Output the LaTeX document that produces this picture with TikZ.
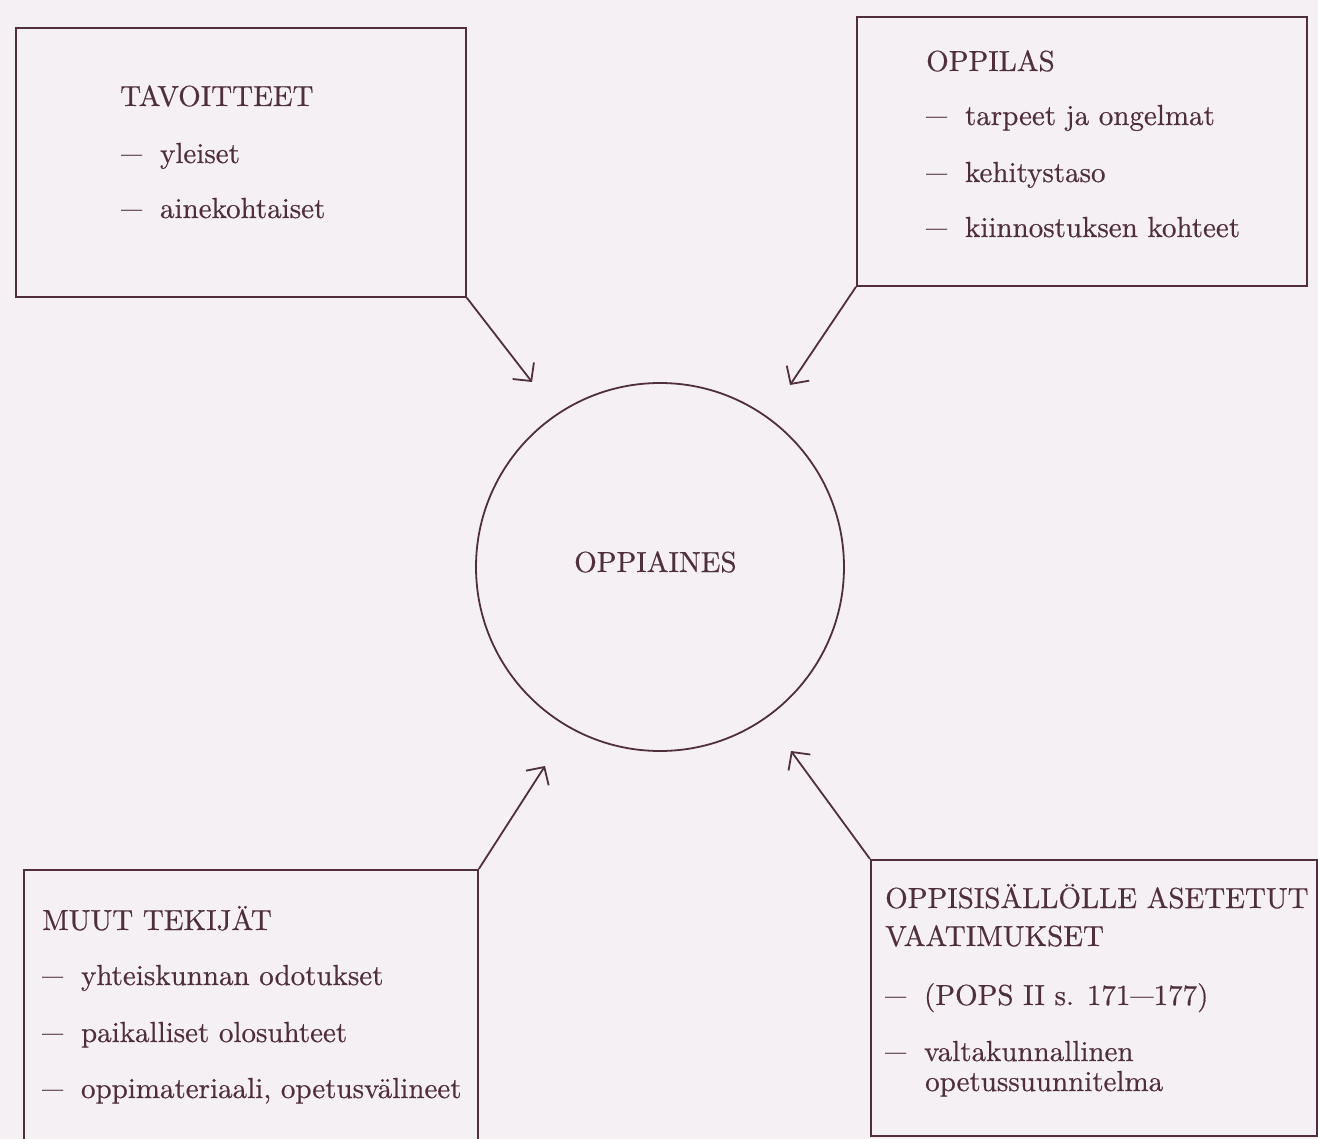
\documentclass[tikz,border=0pt]{standalone}
\usepackage{graphicx}
\usepackage{fontspec}
\setmainfont{lmroman10-regular.otf}[FakeBold=0.5]
\usetikzlibrary{arrows.meta}
\definecolor{ink}{RGB}{80,46,62}
\definecolor{paper}{RGB}{245,240,244}
\newcommand\dsh{\makebox[1.34em][l]{\scalebox{0.72}[1]{---}}}
\tikzset{
  boxst/.style={draw=ink, line width=1.8pt, rectangle, inner sep=0pt, anchor=north west},
  txt/.style={text=ink, anchor=base west, inner sep=0pt},
  arr/.style={draw=ink, line width=1.8pt, -{Straight Barb[length=13pt,width=27pt,line width=1.8pt]}},
  ring/.style={draw=ink, line width=1.8pt, circle, inner sep=0pt}
}
\begin{document}
\begin{tikzpicture}[x=1pt,y=-1pt,font=\fontsize{29}{35}\selectfont]
\clip (0,0) rectangle (1318,1139);
\fill[paper] (0,0) rectangle (1318,1139);

% central circle
\node[ring, minimum size=368pt] (oppiaines) at (660,567) {};
\node[txt] (oppt) at (574,572) {OPPIAINES};

% top-left box
\node[boxst, minimum width=450pt, minimum height=269pt] (tav) at (15,27) {};
\node[txt] (tav1) at (120,106) {TAVOITTEET};
\node[txt] (tav2) at (121,163) {\dsh yleiset};
\node[txt] (tav3) at (121,218) {\dsh ainekohtaiset};

% top-right box
\node[boxst, minimum width=450pt, minimum height=269pt] (opp) at (856,16) {};
\node[txt] (opp1) at (926,71) {OPPILAS};
\node[txt] (opp2) at (926,125) {\dsh tarpeet ja ongelmat};
\node[txt] (opp3) at (926,182) {\dsh kehitystaso};
\node[txt] (opp4) at (926,237) {\dsh kiinnostuksen kohteet};

% bottom-left box
\node[boxst, minimum width=454pt, minimum height=330pt] (muut) at (23,869) {};
\node[txt] (muut1) at (42,930) {MUUT TEKIJÄT};
\node[txt] (muut2) at (42,985) {\dsh yhteiskunnan odotukset};
\node[txt] (muut3) at (42,1042) {\dsh paikalliset olosuhteet};
\node[txt] (muut4) at (42,1098) {\dsh oppimateriaali, opetusvälineet};

% bottom-right box
\node[boxst, minimum width=446pt, minimum height=276pt] (vaat) at (870,859) {};
\node[txt] (vaat1) at (885,908) {OPPISISÄLLÖLLE ASETETUT};
\node[txt] (vaat2) at (885,946) {VAATIMUKSET};
\node[txt] (vaat3) at (885,1005) {\dsh (POPS II s. 171\scalebox{0.8}[1]{---}177)};
\node[txt] (vaat4) at (885,1061) {\dsh valtakunnallinen};
\node[txt] (vaat5) at (925,1091) {opetussuunnitelma};

% arrow tips
\coordinate (t1) at (532,382);
\coordinate (t2) at (790,385);
\coordinate (t3) at (545,766);
\coordinate (t4) at (791,751);

\draw[arr] (tav.south east) -- (t1);
\draw[arr] (opp.south west) -- (t2);
\draw[arr] (muut.north east) -- (t3);
\draw[arr] (vaat.north west) -- (t4);
\end{tikzpicture}
\end{document}
